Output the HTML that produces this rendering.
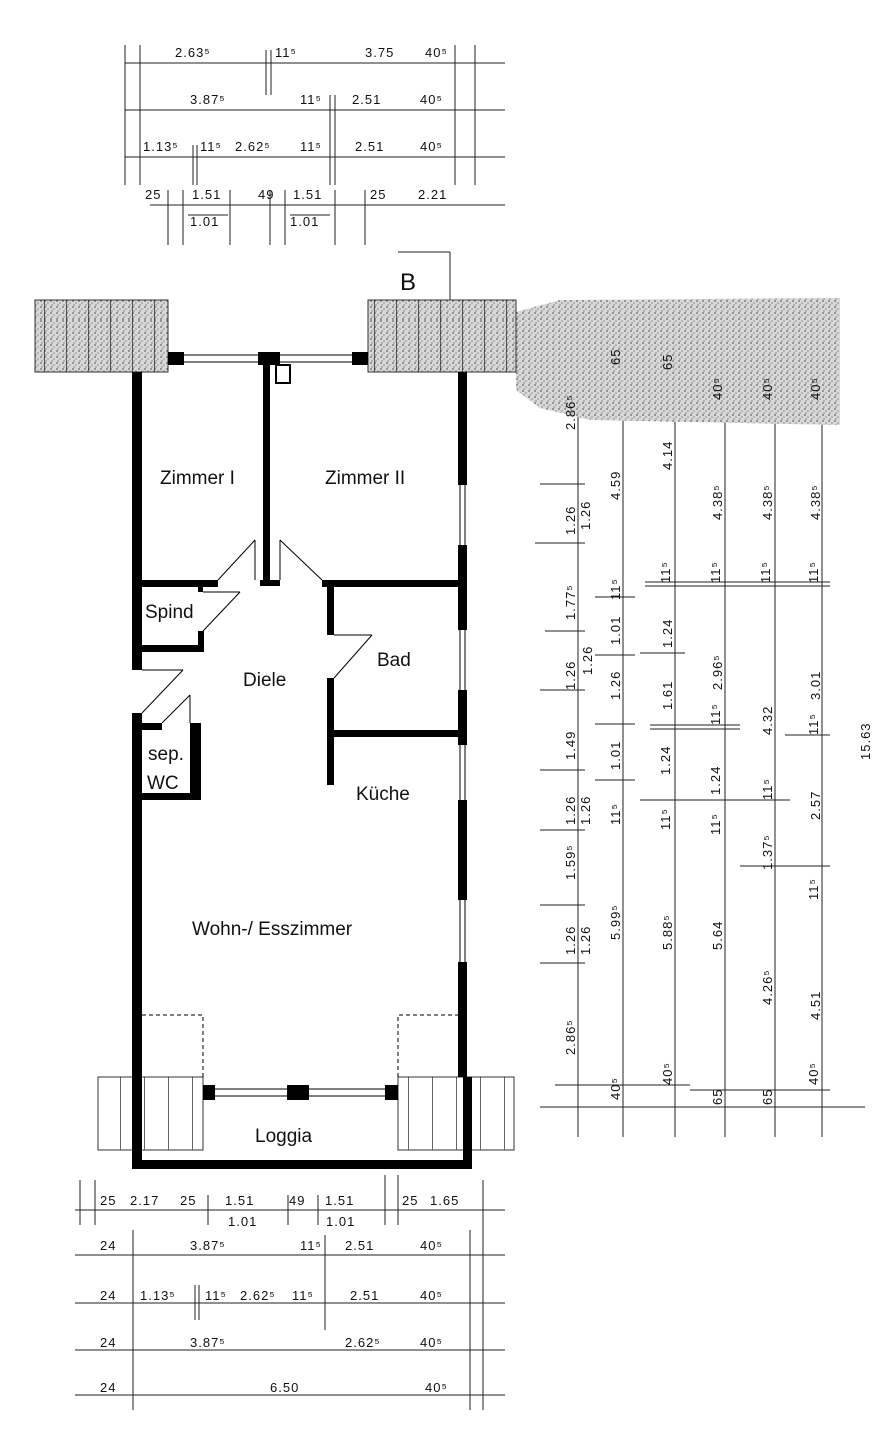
<!DOCTYPE html>
<html><head><meta charset="utf-8"><style>
html,body{margin:0;padding:0;background:#fff;}
svg{display:block;}
text{font-family:"Liberation Sans",sans-serif;fill:#111;}
.d{font-size:13px;letter-spacing:1px;}
.l{font-size:19px;}
</style></head><body>
<svg width="883" height="1440" viewBox="0 0 883 1440" xmlns="http://www.w3.org/2000/svg">
<defs>
<pattern id="st" width="6" height="6" patternUnits="userSpaceOnUse"><rect width="6" height="6" fill="#d8d8d8"/><circle cx="1" cy="1" r="0.9" fill="#666"/><circle cx="4" cy="3" r="0.8" fill="#888"/><circle cx="2" cy="5" r="0.7" fill="#777"/></pattern>
<pattern id="br" width="22" height="80" patternUnits="userSpaceOnUse"><rect width="22" height="80" fill="url(#st)"/><line x1="0" y1="0" x2="0" y2="80" stroke="#333" stroke-width="1.5"/></pattern>
<pattern id="bw" width="24" height="80" patternUnits="userSpaceOnUse"><line x1="0" y1="0" x2="0" y2="80" stroke="#333" stroke-width="1.5"/></pattern>
</defs>
<g stroke="#222" stroke-width="1" fill="none">
<!-- top dims -->
<line x1="125" y1="63" x2="505" y2="63"/><line x1="125" y1="110" x2="505" y2="110"/><line x1="125" y1="157" x2="505" y2="157"/><line x1="150" y1="205" x2="505" y2="205"/>
<line x1="125" y1="45" x2="125" y2="185"/><line x1="140" y1="45" x2="140" y2="185"/><line x1="455" y1="45" x2="455" y2="185"/><line x1="475" y1="45" x2="475" y2="185"/>
<line x1="266" y1="50" x2="266" y2="95"/><line x1="271" y1="50" x2="271" y2="95"/><line x1="330" y1="95" x2="330" y2="185"/><line x1="335" y1="95" x2="335" y2="185"/>
<line x1="193" y1="145" x2="193" y2="185"/><line x1="197" y1="145" x2="197" y2="185"/>
<line x1="168" y1="190" x2="168" y2="245"/><line x1="183" y1="190" x2="183" y2="245"/><line x1="230" y1="190" x2="230" y2="245"/><line x1="270" y1="190" x2="270" y2="245"/><line x1="285" y1="190" x2="285" y2="245"/><line x1="335" y1="190" x2="335" y2="245"/><line x1="365" y1="190" x2="365" y2="245"/><line x1="188" y1="215" x2="228" y2="215"/><line x1="290" y1="215" x2="330" y2="215"/>
<!-- B marker -->
<line x1="398" y1="252" x2="450" y2="252"/><line x1="450" y1="252" x2="450" y2="340"/>
<!-- right dims -->
<line x1="578" y1="320" x2="578" y2="1137"/><line x1="623" y1="320" x2="623" y2="1137"/><line x1="675" y1="320" x2="675" y2="1137"/><line x1="725" y1="320" x2="725" y2="1137"/><line x1="775" y1="320" x2="775" y2="1137"/><line x1="822" y1="320" x2="822" y2="1137"/>
<line x1="540" y1="342" x2="830" y2="342"/><line x1="595" y1="375" x2="690" y2="375"/><line x1="690" y1="362" x2="830" y2="362"/>
<line x1="540" y1="1107" x2="865" y2="1107"/><line x1="555" y1="1085" x2="690" y2="1085"/><line x1="690" y1="1090" x2="830" y2="1090"/>
<line x1="540" y1="484" x2="585" y2="484"/><line x1="535" y1="543" x2="585" y2="543"/><line x1="545" y1="631" x2="585" y2="631"/><line x1="540" y1="690" x2="585" y2="690"/><line x1="540" y1="770" x2="585" y2="770"/><line x1="540" y1="830" x2="585" y2="830"/><line x1="540" y1="905" x2="585" y2="905"/><line x1="540" y1="963" x2="585" y2="963"/>
<line x1="645" y1="582" x2="830" y2="582"/><line x1="645" y1="586" x2="830" y2="586"/><line x1="595" y1="597" x2="635" y2="597"/><line x1="595" y1="655" x2="635" y2="655"/><line x1="640" y1="653" x2="685" y2="653"/><line x1="650" y1="725" x2="740" y2="725"/><line x1="650" y1="729" x2="740" y2="729"/><line x1="595" y1="724" x2="635" y2="724"/><line x1="785" y1="735" x2="830" y2="735"/><line x1="595" y1="780" x2="635" y2="780"/><line x1="640" y1="800" x2="790" y2="800"/><line x1="740" y1="866" x2="830" y2="866"/>
<!-- bottom dims -->
<line x1="75" y1="1210" x2="505" y2="1210"/><line x1="75" y1="1255" x2="505" y2="1255"/><line x1="75" y1="1303" x2="505" y2="1303"/><line x1="75" y1="1350" x2="505" y2="1350"/><line x1="75" y1="1395" x2="505" y2="1395"/>
<line x1="80" y1="1180" x2="80" y2="1225"/><line x1="95" y1="1180" x2="95" y2="1225"/><line x1="133" y1="1230" x2="133" y2="1410"/><line x1="208" y1="1195" x2="208" y2="1225"/><line x1="288" y1="1195" x2="288" y2="1225"/><line x1="318" y1="1195" x2="318" y2="1225"/><line x1="385" y1="1175" x2="385" y2="1225"/><line x1="398" y1="1175" x2="398" y2="1225"/><line x1="483" y1="1180" x2="483" y2="1410"/><line x1="470" y1="1230" x2="470" y2="1410"/><line x1="325" y1="1235" x2="325" y2="1330"/><line x1="195" y1="1285" x2="195" y2="1320"/><line x1="199" y1="1285" x2="199" y2="1320"/>
</g>
<!-- stipple -->
<path d="M516 312 L560 300 L840 298 L840 425 L590 420 L540 408 L516 390 Z" fill="url(#st)"/>
<rect x="35" y="300" width="133" height="72" fill="url(#br)" stroke="#333"/>
<rect x="368" y="300" width="148" height="72" fill="url(#br)" stroke="#333"/>
<rect x="98" y="1077" width="105" height="73" fill="url(#bw)" stroke="#333"/>
<rect x="398" y="1077" width="116" height="73" fill="url(#bw)" stroke="#333"/>
<!-- walls -->
<g fill="#000">
<rect x="132" y="372" width="10" height="298"/><rect x="132" y="713" width="10" height="455"/>
<rect x="458" y="372" width="9" height="113"/><rect x="458" y="545" width="9" height="85"/><rect x="458" y="690" width="9" height="55"/><rect x="458" y="800" width="9" height="100"/><rect x="458" y="962" width="9" height="115"/>
<rect x="132" y="1160" width="340" height="9"/><rect x="463" y="1077" width="9" height="92"/>
<rect x="168" y="352" width="16" height="13"/><rect x="258" y="352" width="22" height="13"/><rect x="352" y="352" width="16" height="13"/>
<rect x="263" y="365" width="7" height="220"/>
<rect x="142" y="580" width="76" height="7"/><rect x="198" y="587" width="5" height="5"/><rect x="198" y="631" width="6" height="21"/><rect x="142" y="645" width="62" height="7"/>
<rect x="260" y="580" width="20" height="6"/>
<rect x="322" y="580" width="144" height="7"/><rect x="327" y="587" width="7" height="48"/><rect x="327" y="678" width="7" height="107"/><rect x="334" y="730" width="132" height="7"/>
<rect x="142" y="723" width="20" height="7"/><rect x="190" y="723" width="11" height="77"/><rect x="142" y="793" width="59" height="7"/>
<rect x="203" y="1085" width="12" height="15"/><rect x="287" y="1085" width="22" height="15"/><rect x="385" y="1085" width="13" height="15"/>
</g>
<g stroke="#000" stroke-width="1" fill="none">
<rect x="276" y="365" width="14" height="18" stroke-width="2"/>
<line x1="184" y1="355" x2="258" y2="355"/><line x1="184" y1="362" x2="258" y2="362"/><line x1="280" y1="355" x2="352" y2="355"/><line x1="280" y1="362" x2="352" y2="362"/>
<line x1="215" y1="1089" x2="385" y2="1089"/><line x1="215" y1="1096" x2="385" y2="1096"/>
<line x1="460" y1="485" x2="460" y2="545"/><line x1="465" y1="485" x2="465" y2="545"/><line x1="460" y1="630" x2="460" y2="690"/><line x1="465" y1="630" x2="465" y2="690"/><line x1="460" y1="745" x2="460" y2="800"/><line x1="465" y1="745" x2="465" y2="800"/><line x1="460" y1="900" x2="460" y2="962"/><line x1="465" y1="900" x2="465" y2="962"/>
<line x1="218" y1="580" x2="255" y2="540"/><line x1="255" y1="540" x2="255" y2="580"/><line x1="280" y1="540" x2="280" y2="580"/><line x1="280" y1="540" x2="322" y2="580"/>
<line x1="203" y1="592" x2="240" y2="592"/><line x1="240" y1="592" x2="203" y2="631"/>
<line x1="334" y1="678" x2="372" y2="635"/><line x1="334" y1="635" x2="372" y2="635"/>
<line x1="142" y1="713" x2="183" y2="670"/><line x1="142" y1="670" x2="183" y2="670"/>
<line x1="162" y1="723" x2="190" y2="695"/><line x1="190" y1="695" x2="190" y2="723"/>
<path d="M142 1015 H203 V1077" stroke-dasharray="4,3"/><path d="M398 1077 V1015 H458" stroke-dasharray="4,3"/>
</g>
<!-- labels -->
<text class="l" x="160" y="484">Zimmer I</text><text class="l" x="325" y="484">Zimmer II</text>
<text class="l" x="145" y="618">Spind</text><text class="l" x="243" y="686">Diele</text><text class="l" x="377" y="666">Bad</text>
<text class="l" x="148" y="760">sep.</text><text class="l" x="147" y="789">WC</text>
<text class="l" x="356" y="800">Küche</text><text class="l" x="192" y="935">Wohn-/ Esszimmer</text><text class="l" x="255" y="1142">Loggia</text>
<text x="400" y="290" style="font-size:24px">B</text>
<g class="d">
<text x="175" y="57">2.63⁵</text><text x="275" y="57">11⁵</text><text x="365" y="57">3.75</text><text x="425" y="57">40⁵</text>
<text x="190" y="104">3.87⁵</text><text x="300" y="104">11⁵</text><text x="352" y="104">2.51</text><text x="420" y="104">40⁵</text>
<text x="143" y="151">1.13⁵</text><text x="200" y="151">11⁵</text><text x="235" y="151">2.62⁵</text><text x="300" y="151">11⁵</text><text x="355" y="151">2.51</text><text x="420" y="151">40⁵</text>
<text x="145" y="199">25</text><text x="192" y="199">1.51</text><text x="258" y="199">49</text><text x="293" y="199">1.51</text><text x="370" y="199">25</text><text x="418" y="199">2.21</text>
<text x="190" y="226">1.01</text><text x="290" y="226">1.01</text>
<text x="100" y="1205">25</text><text x="130" y="1205">2.17</text><text x="180" y="1205">25</text><text x="225" y="1205">1.51</text><text x="289" y="1205">49</text><text x="325" y="1205">1.51</text><text x="402" y="1205">25</text><text x="430" y="1205">1.65</text>
<text x="228" y="1226">1.01</text><text x="326" y="1226">1.01</text>
<text x="100" y="1250">24</text><text x="190" y="1250">3.87⁵</text><text x="300" y="1250">11⁵</text><text x="345" y="1250">2.51</text><text x="420" y="1250">40⁵</text>
<text x="100" y="1300">24</text><text x="140" y="1300">1.13⁵</text><text x="205" y="1300">11⁵</text><text x="240" y="1300">2.62⁵</text><text x="292" y="1300">11⁵</text><text x="350" y="1300">2.51</text><text x="420" y="1300">40⁵</text>
<text x="100" y="1347">24</text><text x="190" y="1347">3.87⁵</text><text x="345" y="1347">2.62⁵</text><text x="420" y="1347">40⁵</text>
<text x="100" y="1392">24</text><text x="270" y="1392">6.50</text><text x="425" y="1392">40⁵</text>
</g>
<g class="d">
<text transform="translate(575,430) rotate(-90)">2.86⁵</text>
<text transform="translate(575,535) rotate(-90)">1.26</text><text transform="translate(590,530) rotate(-90)">1.26</text>
<text transform="translate(575,620) rotate(-90)">1.77⁵</text>
<text transform="translate(575,690) rotate(-90)">1.26</text><text transform="translate(592,675) rotate(-90)">1.26</text>
<text transform="translate(575,760) rotate(-90)">1.49</text>
<text transform="translate(575,825) rotate(-90)">1.26</text><text transform="translate(590,825) rotate(-90)">1.26</text>
<text transform="translate(575,880) rotate(-90)">1.59⁵</text>
<text transform="translate(575,955) rotate(-90)">1.26</text><text transform="translate(590,955) rotate(-90)">1.26</text>
<text transform="translate(575,1055) rotate(-90)">2.86⁵</text>
<text transform="translate(620,1100) rotate(-90)">40⁵</text>
<text transform="translate(620,365) rotate(-90)">65</text><text transform="translate(620,500) rotate(-90)">4.59</text><text transform="translate(620,600) rotate(-90)">11⁵</text><text transform="translate(620,645) rotate(-90)">1.01</text><text transform="translate(620,700) rotate(-90)">1.26</text><text transform="translate(620,770) rotate(-90)">1.01</text><text transform="translate(620,825) rotate(-90)">11⁵</text><text transform="translate(620,940) rotate(-90)">5.99⁵</text>
<text transform="translate(672,370) rotate(-90)">65</text><text transform="translate(672,470) rotate(-90)">4.14</text><text transform="translate(670,583) rotate(-90)">11⁵</text><text transform="translate(672,648) rotate(-90)">1.24</text><text transform="translate(672,710) rotate(-90)">1.61</text><text transform="translate(670,775) rotate(-90)">1.24</text><text transform="translate(670,830) rotate(-90)">11⁵</text><text transform="translate(672,950) rotate(-90)">5.88⁵</text><text transform="translate(672,1085) rotate(-90)">40⁵</text>
<text transform="translate(722,400) rotate(-90)">40⁵</text><text transform="translate(722,520) rotate(-90)">4.38⁵</text><text transform="translate(720,583) rotate(-90)">11⁵</text><text transform="translate(722,690) rotate(-90)">2.96⁵</text><text transform="translate(720,725) rotate(-90)">11⁵</text><text transform="translate(720,795) rotate(-90)">1.24</text><text transform="translate(720,835) rotate(-90)">11⁵</text><text transform="translate(722,950) rotate(-90)">5.64</text><text transform="translate(722,1105) rotate(-90)">65</text>
<text transform="translate(772,400) rotate(-90)">40⁵</text><text transform="translate(772,520) rotate(-90)">4.38⁵</text><text transform="translate(770,583) rotate(-90)">11⁵</text><text transform="translate(772,735) rotate(-90)">4.32</text><text transform="translate(772,800) rotate(-90)">11⁵</text><text transform="translate(772,870) rotate(-90)">1.37⁵</text><text transform="translate(772,1005) rotate(-90)">4.26⁵</text><text transform="translate(772,1105) rotate(-90)">65</text>
<text transform="translate(820,400) rotate(-90)">40⁵</text><text transform="translate(820,520) rotate(-90)">4.38⁵</text><text transform="translate(818,583) rotate(-90)">11⁵</text><text transform="translate(820,700) rotate(-90)">3.01</text><text transform="translate(818,735) rotate(-90)">11⁵</text><text transform="translate(820,820) rotate(-90)">2.57</text><text transform="translate(818,900) rotate(-90)">11⁵</text><text transform="translate(820,1020) rotate(-90)">4.51</text><text transform="translate(818,1085) rotate(-90)">40⁵</text>
<text transform="translate(870,760) rotate(-90)">15.63</text>
</g>
</svg>
</body></html>
